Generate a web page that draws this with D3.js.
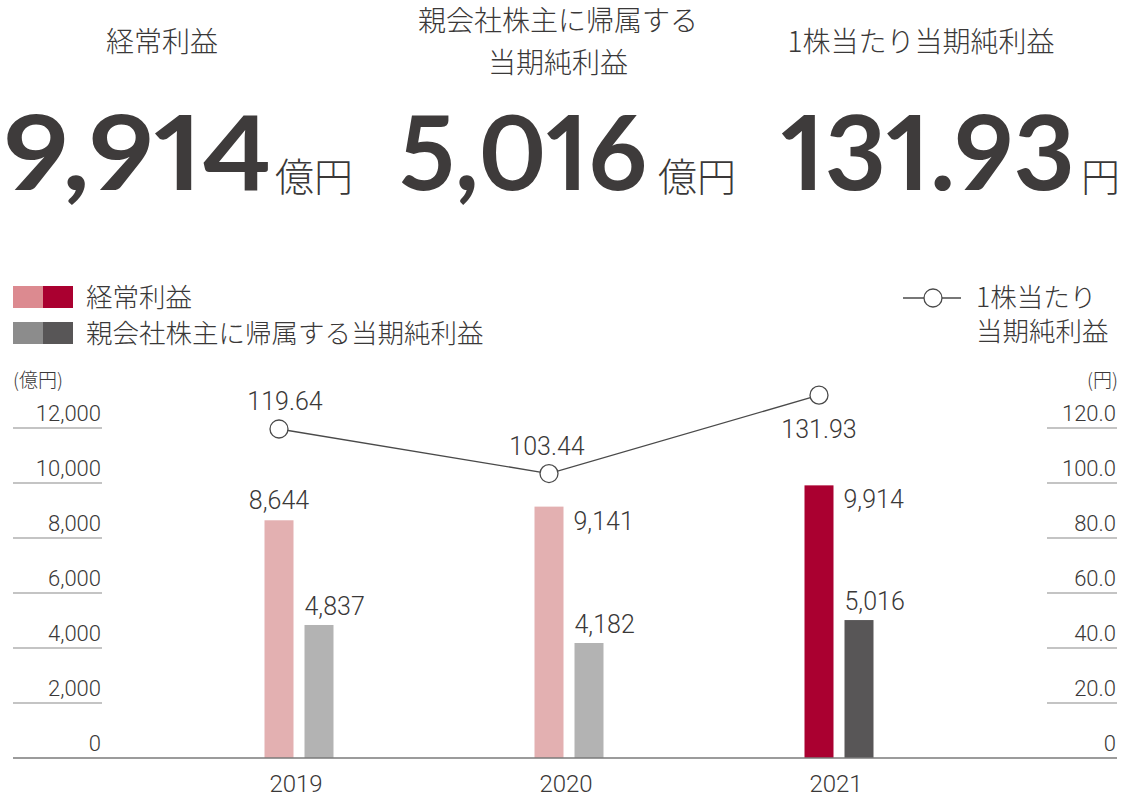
<!DOCTYPE html>
<html>
<head>
<meta charset="utf-8">
<script src="https://cdn.jsdelivr.net/npm/d3@7"></script>
<style>
  body { margin: 0; background: #fff; }
  svg { display: block; }
  text { fill: #3a3838; font-family: "Noto Sans CJK JP", "Noto Sans", sans-serif; font-weight: 300; }
  .num { font-family: Roboto, "Noto Sans", sans-serif; font-weight: 300; }
  .big { font-family: Lato, "Noto Sans", sans-serif; font-weight: 700; fill: #3e3b3b;
         font-variant-numeric: proportional-nums; font-feature-settings: "pnum" 1; }
</style>
</head>
<body>
<svg></svg>
<script>
var w = 1126, h = 803;

// data
var years = ["2019", "2020", "2021"];
var ordinaryProfit = [8644, 9141, 9914];
var netIncome = [4837, 4182, 5016];
var eps = [119.64, 103.44, 131.93];
var leftTicks = [0, 2000, 4000, 6000, 8000, 10000, 12000];
var rightTicks = [0, 20, 40, 60, 80, 100, 120];

var headTitles = [["経常利益"], ["親会社株主に帰属する", "当期純利益"], ["1株当たり当期純利益"]];
var headValues = ["9,914", "5,016", "131.93"];
var headUnits = ["億円", "億円", "円"];

var legendBars = ["経常利益", "親会社株主に帰属する当期純利益"];
var legendLine = ["1株当たり", "当期純利益"];

var pinkColors = ["#e3b0b1", "#e3b0b1", "#aa0030"];
var grayColors = ["#b3b3b3", "#b3b3b3", "#585657"];

var svg = d3.select("svg").attr("width", w).attr("height", h);

// ---------- header ----------
var headCx = [162, 558, 921];
var numX = [4, 399, 781];
var numW = [268, 248, 294];
var unitGap = [3, 11, 6];
headTitles.forEach(function (lines, i) {
    var t = svg.append("text")
        .attr("text-anchor", "middle")
        .attr("font-size", 28);
    lines.forEach(function (s, j) {
        t.append("tspan")
            .attr("x", headCx[i])
            .attr("y", (lines.length > 1 ? 31 : 52) + j * 42)
            .text(s);
    });
    // big figure, stretched to the width it has in the reference
    svg.append("text")
        .attr("class", "big")
        .attr("x", numX[i])
        .attr("y", 190)
        .attr("font-size", 104)
        .attr("textLength", numW[i])
        .attr("lengthAdjust", "spacingAndGlyphs")
        .text(headValues[i]);
    svg.append("text")
        .attr("x", numX[i] + numW[i] + unitGap[i])
        .attr("y", 191)
        .attr("font-size", 39)
        .text(headUnits[i]);
});

// ---------- scales ----------
var x = d3.scaleBand().domain(years).range([164, 974]);
var yL = d3.scaleLinear().domain([0, 12000]).range([758, 428]);
var yR = d3.scaleLinear().domain([0, 120]).range([758, 428]);
var barW = 29, gap = 11;
var pinkX = d => x(d) + x.bandwidth() / 2 - gap / 2 - barW;
var grayX = d => x(d) + x.bandwidth() / 2 + gap / 2;

// ---------- axes (ticks with short rules under labels) ----------
svg.append("g").selectAll("line").data(leftTicks.slice(1)).enter().append("line")
    .attr("x1", 13).attr("x2", 102)
    .attr("y1", d => yL(d)).attr("y2", d => yL(d))
    .attr("stroke", "#8a8a8a").attr("stroke-width", 1.2);
svg.append("g").selectAll("text").data(leftTicks).enter().append("text")
    .attr("class", "num")
    .attr("x", 101).attr("y", d => yL(d) - 7)
    .attr("text-anchor", "end").attr("font-size", 22)
    .text(d => d3.format(",")(d));

svg.append("g").selectAll("line").data(rightTicks.slice(1)).enter().append("line")
    .attr("x1", 1047).attr("x2", 1117)
    .attr("y1", d => yR(d)).attr("y2", d => yR(d))
    .attr("stroke", "#8a8a8a").attr("stroke-width", 1.2);
svg.append("g").selectAll("text").data(rightTicks).enter().append("text")
    .attr("class", "num")
    .attr("x", 1116).attr("y", d => yR(d) - 7)
    .attr("text-anchor", "end").attr("font-size", 22)
    .text(d => d === 0 ? "0" : d3.format(".1f")(d));

svg.append("text").attr("x", 13).attr("y", 387).attr("font-size", 19).text("(億円)");
svg.append("text").attr("x", 1118).attr("y", 387).attr("font-size", 19)
    .attr("text-anchor", "end").text("(円)");

// ---------- bars ----------
svg.append("g").selectAll("rect").data(years).enter().append("rect")
    .attr("x", d => pinkX(d))
    .attr("y", (d, i) => yL(ordinaryProfit[i]))
    .attr("width", barW)
    .attr("height", (d, i) => yL(0) - yL(ordinaryProfit[i]))
    .attr("fill", (d, i) => pinkColors[i]);

svg.append("g").selectAll("rect").data(years).enter().append("rect")
    .attr("x", d => grayX(d))
    .attr("y", (d, i) => yL(netIncome[i]))
    .attr("width", barW)
    .attr("height", (d, i) => yL(0) - yL(netIncome[i]))
    .attr("fill", (d, i) => grayColors[i]);

// baseline
svg.append("line")
    .attr("x1", 13).attr("x2", 1117)
    .attr("y1", yL(0)).attr("y2", yL(0))
    .attr("stroke", "#7a7a7a").attr("stroke-width", 1.6);

// bar labels
svg.append("g").selectAll("text").data(years).enter().append("text")
    .attr("class", "num")
    .attr("font-size", 25)
    .attr("text-anchor", (d, i) => i === 0 ? "middle" : "start")
    .attr("x", (d, i) => i === 0 ? pinkX(d) + barW / 2 : pinkX(d) + barW + 10)
    .attr("y", (d, i) => i === 0 ? yL(ordinaryProfit[i]) - 11 : yL(ordinaryProfit[i]) + 23)
    .text((d, i) => d3.format(",")(ordinaryProfit[i]));

svg.append("g").selectAll("text").data(years).enter().append("text")
    .attr("class", "num")
    .attr("font-size", 25)
    .attr("x", d => grayX(d))
    .attr("y", (d, i) => yL(netIncome[i]) - 10)
    .text((d, i) => d3.format(",")(netIncome[i]));

// year labels
svg.append("g").selectAll("text").data(years).enter().append("text")
    .attr("class", "num")
    .attr("font-size", 24)
    .attr("text-anchor", "middle")
    .attr("x", d => x(d) + x.bandwidth() / 2 - 3)
    .attr("y", 792)
    .text(d => d);

// ---------- EPS line ----------
var lx = d => pinkX(d) + barW / 2;
var line = d3.line().x(d => lx(d)).y((d, i) => yR(eps[i]));
svg.append("path")
    .attr("d", line(years))
    .attr("fill", "none")
    .attr("stroke", "#4a4a4a")
    .attr("stroke-width", 1.3);
svg.append("g").selectAll("circle").data(years).enter().append("circle")
    .attr("cx", d => lx(d))
    .attr("cy", (d, i) => yR(eps[i]))
    .attr("r", 9)
    .attr("fill", "#fff")
    .attr("stroke", "#4a4a4a")
    .attr("stroke-width", 1.3);
svg.append("g").selectAll("text").data(years).enter().append("text")
    .attr("class", "num")
    .attr("font-size", 25)
    .attr("text-anchor", "middle")
    .attr("x", (d, i) => lx(d) + (i === 0 ? 6 : i === 1 ? -2 : 0))
    .attr("y", (d, i) => i === 2 ? yR(eps[i]) + 43 : yR(eps[i]) - 19)
    .text((d, i) => d3.format(".2f")(eps[i]));

// ---------- legend ----------
var lg = svg.append("g");
[["#dc8a90", pinkColors[2]], ["#8c8c8c", grayColors[2]]].forEach(function (c, i) {
    var yy = 286 + i * 36;
    lg.append("rect").attr("x", 13).attr("y", yy).attr("width", 30).attr("height", 22).attr("fill", c[0]);
    lg.append("rect").attr("x", 43).attr("y", yy).attr("width", 30).attr("height", 22).attr("fill", c[1]);
    lg.append("text").attr("x", 86).attr("y", yy + 21).attr("font-size", 26.5).text(legendBars[i]);
});
lg.append("line").attr("x1", 903).attr("x2", 961).attr("y1", 298).attr("y2", 298)
    .attr("stroke", "#4a4a4a").attr("stroke-width", 1.3);
lg.append("circle").attr("cx", 933).attr("cy", 298).attr("r", 9)
    .attr("fill", "#fff").attr("stroke", "#4a4a4a").attr("stroke-width", 1.3);
legendLine.forEach(function (s, i) {
    lg.append("text").attr("x", 976).attr("y", 307 + i * 34).attr("font-size", 26.5).text(s);
});
</script>
</body>
</html>
